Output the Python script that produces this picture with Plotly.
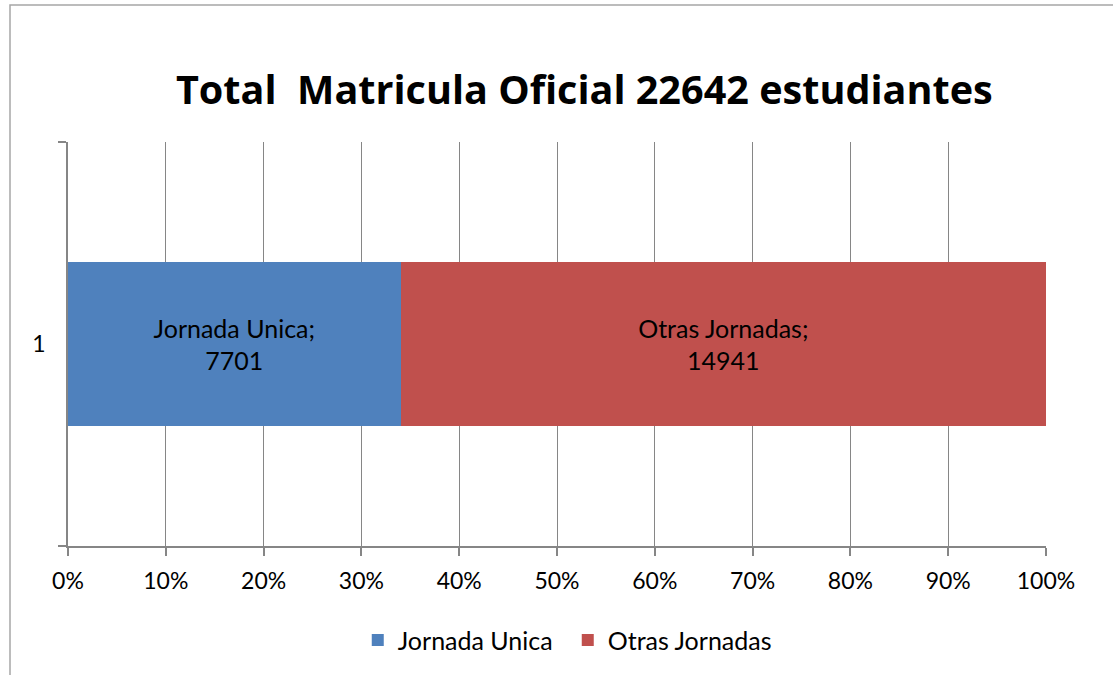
import plotly.graph_objects as go

categories = ["1"]
series_names = ["Jornada Unica", "Otras Jornadas"]
jornada_unica = [7701]
otras_jornadas = [14941]
colors = ["#4F81BD", "#C0504D"]
title_text = "Total  Matricula Oficial 22642 estudiantes"
font = "Lato, 'Open Sans', sans-serif"
title_font = "'Open Sans', Lato, sans-serif"

fig = go.Figure()
for name, vals, col in zip(series_names, [jornada_unica, otras_jornadas], colors):
    fig.add_trace(go.Bar(
        y=categories, x=vals, name=name, orientation="h",
        marker=dict(color=col, line=dict(width=0)),
        text=[f"{name};<br>{v}" for v in vals],
        textposition="inside", insidetextanchor="middle", textangle=0,
        textfont=dict(color="black", size=25, family=font),
        width=0.406, hoverinfo="x+name",
    ))

fig.update_layout(
    width=1113, height=675,
    barmode="stack", barnorm="percent",
    margin=dict(l=68, r=67, t=142, b=129),
    paper_bgcolor="white", plot_bgcolor="white",
    font=dict(family=font, size=23, color="black"),
    title=dict(text=f"<b>{title_text}</b>", x=0.525, xanchor="center",
               y=1 - 90 / 675, yanchor="middle",
               font=dict(size=39.6, family=title_font, color="black")),
    legend=dict(orientation="h", x=0.511, xanchor="center", y=-0.233, yanchor="middle",
                font=dict(size=25, family=font), traceorder="normal", itemwidth=30,
                entrywidth=165, entrywidthmode="pixels"),
    showlegend=True,
)
fig.update_xaxes(range=[0, 100], dtick=10, ticksuffix="%", showgrid=True,
                 gridcolor="#868686", gridwidth=1.3, showline=True, linecolor="#868686",
                 linewidth=1.5, ticks="outside", ticklen=8, tickcolor="#868686",
                 tickwidth=1.5, zeroline=False, tickfont=dict(size=23), ticklabelstandoff=6)
fig.update_yaxes(type="category", range=[-0.5, 0.5], showline=True, linecolor="#868686",
                 linewidth=1.5, ticks="outside", tickson="boundaries", ticklen=8,
                 tickcolor="#868686", tickwidth=1.5, showgrid=False,
                 tickfont=dict(size=23), ticklabelstandoff=16)

# chart border (outer frame)
x0 = (10 - 68) / 978
y1 = 1 + (142 - 5) / 404
fig.add_shape(type="rect", xref="paper", yref="paper", x0=x0, x1=1.09, y0=-0.35, y1=y1,
              line=dict(color="#A6A6A6", width=1.5), layer="below")

fig.write_html("out.html", config={"displayModeBar": False},
               post_script="document.body.style.margin='0';")
